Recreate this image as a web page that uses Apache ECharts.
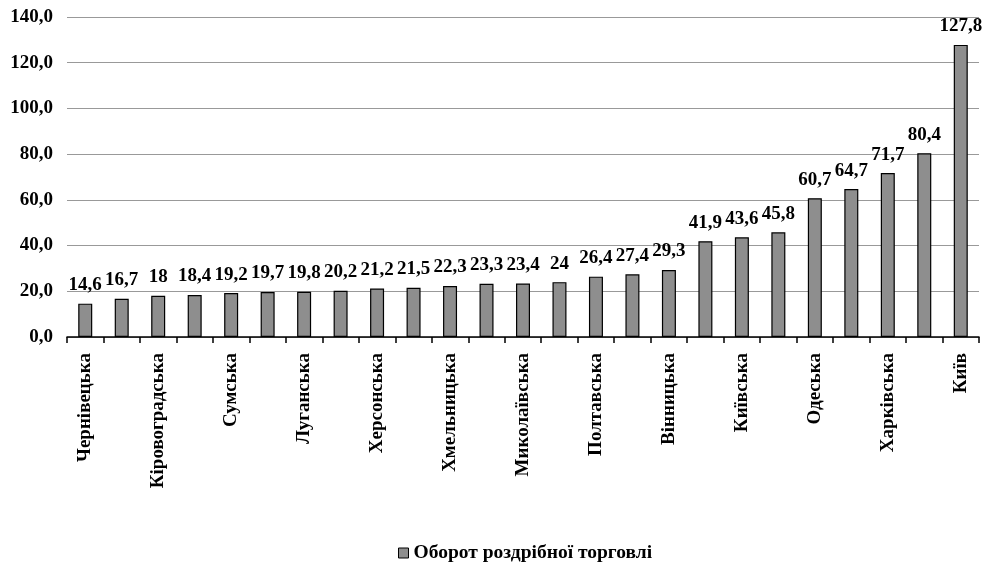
<!DOCTYPE html>
<html>
<head>
<meta charset="utf-8">
<script src="https://cdn.jsdelivr.net/npm/echarts@6/dist/echarts.min.js"></script>
<style>
html,body{margin:0;padding:0;background:#fff;}
#chart{width:985px;height:562px;}
</style>
</head>
<body>
<div id="chart"></div>
<script>
const categories = [
  'Чернівецька','Тернопільська','Кіровоградська','Житомирська','Сумська',
  'Волинська','Луганська','Рівненська','Херсонська','Закарпатська',
  'Хмельницька','Черкаська','Миколаївська','Чернігівська','Полтавська',
  'Івано-Франківська','Вінницька','АР Крим','Київська','Запорізька',
  'Одеська','Львівська','Харківська','Дніпропетровська','Київ'
];
const values = [
  14.6,16.7,18,18.4,19.2,
  19.7,19.8,20.2,21.2,21.5,
  22.3,23.3,23.4,24,26.4,
  27.4,29.3,41.9,43.6,45.8,
  60.7,64.7,71.7,80.4,127.8
];
const seriesName = 'Оборот роздрібної торговлі';
const yTicks = { min: 0, max: 140, interval: 20 };

const font = '"Liberation Serif","Times New Roman",serif';
const chart = echarts.init(document.getElementById('chart'), null, {renderer:'canvas'});
chart.setOption({
  animation: false,
  backgroundColor: '#fff',
  grid: { left: 67, right: 6, top: 17, bottom: 225, containLabel: false },
  legend: {
    top: 538, left: 393,
    itemWidth: 10, itemHeight: 10, itemGap: 9,
    icon: 'rect',
    itemStyle: { borderColor: '#000', borderWidth: 1 },
    textStyle: { fontFamily: font, fontWeight: 'bold', fontSize: 19.5, color: '#000' },
    data: [seriesName]
  },
  xAxis: {
    type: 'category',
    data: categories,
    boundaryGap: true,
    axisLine: { lineStyle: { color: '#000', width: 1.5 } },
    axisTick: { show: true, interval: 0, length: 6, lineStyle: { color: '#000', width: 1.5 } },
    axisLabel: {
      interval: 1, rotate: 90, margin: 16,
      fontFamily: font, fontWeight: 'bold', fontSize: 19, color: '#000'
    }
  },
  yAxis: {
    type: 'value',
    min: yTicks.min, max: yTicks.max, interval: yTicks.interval,
    axisLine: { show: false },
    axisTick: { show: false },
    splitLine: { lineStyle: { color: '#999', width: 1.2 } },
    axisLabel: {
      margin: 14,
      fontFamily: font, fontWeight: 'bold', fontSize: 19, color: '#000',
      formatter: v => v.toFixed(1).replace('.', ',')
    }
  },
  series: [{
    name: seriesName,
    type: 'bar',
    data: values,
    barWidth: 14,
    itemStyle: { color: '#8e8e8e', borderColor: '#000', borderWidth: 1.2 },
    label: {
      show: true, position: 'top', distance: 9,
      fontFamily: font, fontWeight: 'bold', fontSize: 19, color: '#000',
      formatter: p => String(p.value).replace('.', ',')
    }
  }]
});
</script>
</body>
</html>
